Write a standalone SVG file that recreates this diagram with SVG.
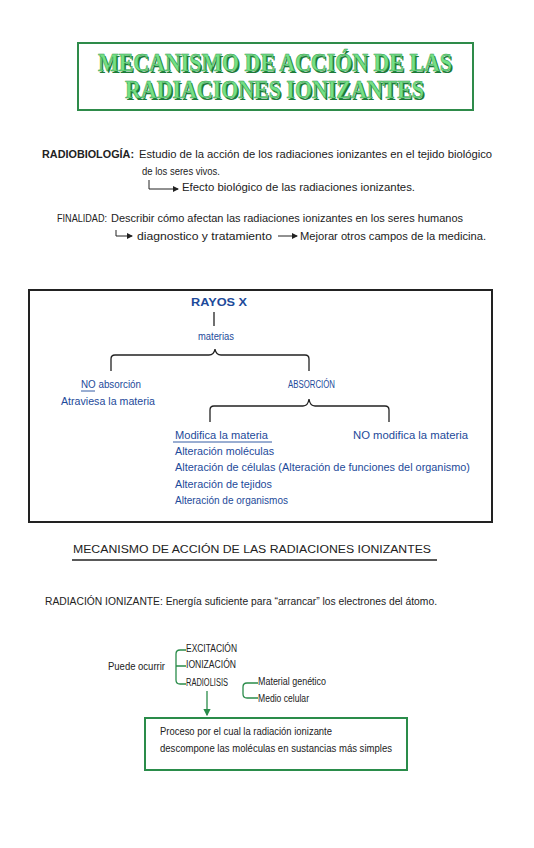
<svg xmlns="http://www.w3.org/2000/svg" width="534" height="848" viewBox="0 0 534 848">
<style>
.t{font-family:"Liberation Sans","DejaVu Sans",sans-serif;font-size:10px;fill:#222}
.b{font-family:"Liberation Sans","DejaVu Sans",sans-serif;font-size:10px;fill:#1d4a9a}
.ttl{font-family:"Liberation Serif","DejaVu Serif",serif;font-weight:bold;font-size:25px}
.sh{fill:#1c7a38}
.fg{fill:#74e085;stroke:#2f9a4c;stroke-width:0.5}
.ln{fill:none;stroke:#222;stroke-width:1}
.bl{fill:none;stroke:#222;stroke-width:1.3}
.gr{fill:none;stroke:#2a8c4a;stroke-width:1.3}
</style>
<defs>
<marker id="ah" viewBox="0 0 6 6" refX="5" refY="3" markerWidth="6" markerHeight="6" orient="auto"><path d="M0,0 L6,3 L0,6 z" fill="#222"/></marker>
<marker id="ahg" viewBox="0 0 6 6" refX="5" refY="3" markerWidth="6" markerHeight="6" orient="auto"><path d="M0,0 L6,3 L0,6 z" fill="#2a8c4a"/></marker>
</defs>
<rect width="534" height="848" fill="#fff"/>

<g id="title">
<rect x="78" y="43" width="395" height="67" fill="none" stroke="#2e8b4a" stroke-width="2"/>
<text class="ttl sh" x="99.5" y="72.5" textLength="354" lengthAdjust="spacingAndGlyphs">MECANISMO DE ACCIÓN DE LAS</text>
<text class="ttl fg" x="98" y="71" textLength="354" lengthAdjust="spacingAndGlyphs">MECANISMO DE ACCIÓN DE LAS</text>
<text class="ttl sh" x="126.5" y="99.5" textLength="299" lengthAdjust="spacingAndGlyphs">RADIACIONES IONIZANTES</text>
<text class="ttl fg" x="125" y="98" textLength="299" lengthAdjust="spacingAndGlyphs">RADIACIONES IONIZANTES</text>
</g>

<g id="radiobiologia">
<text class="t" x="42" y="158" font-weight="bold" textLength="92" lengthAdjust="spacingAndGlyphs">RADIOBIOLOGÍA:</text>
<text class="t" x="139" y="158" textLength="353" lengthAdjust="spacingAndGlyphs">Estudio de la acción de los radiaciones ionizantes en el tejido biológico</text>
<text class="t" x="142" y="175" textLength="78" lengthAdjust="spacingAndGlyphs">de los seres vivos.</text>
<text class="t" x="182" y="191" textLength="233" lengthAdjust="spacingAndGlyphs">Efecto biológico de las radiaciones ionizantes.</text>
</g>

<g id="finalidad">
<text class="t" x="57" y="222" textLength="50" lengthAdjust="spacingAndGlyphs">FINALIDAD:</text>
<text class="t" x="111" y="222" textLength="352" lengthAdjust="spacingAndGlyphs">Describir cómo afectan las radiaciones ionizantes en los seres humanos</text>
<text class="t" x="137" y="240" textLength="135" lengthAdjust="spacingAndGlyphs">diagnostico y tratamiento</text>
<text class="t" x="300" y="240" textLength="186" lengthAdjust="spacingAndGlyphs">Mejorar otros campos de la medicina.</text>
</g>

<g id="box-rayos">
<rect x="29" y="290" width="463" height="232" fill="none" stroke="#222" stroke-width="2"/>
</g>
<g id="rayos">
<text class="b" x="191" y="306" font-weight="bold" textLength="56" lengthAdjust="spacingAndGlyphs">RAYOS X</text>
</g>
<g id="materias"><text class="b" x="198" y="340" textLength="36" lengthAdjust="spacingAndGlyphs">materias</text></g>
<g id="no-absorcion">
<text class="b" x="81" y="388" textLength="60" lengthAdjust="spacingAndGlyphs">NO absorción</text>
<line x1="81" y1="391" x2="95" y2="391" stroke="#1d4a9a" stroke-width="0.9"/>
<text class="b" x="61" y="405" textLength="94" lengthAdjust="spacingAndGlyphs">Atraviesa la materia</text>
</g>
<g id="absorcion"><text class="b" x="288" y="388" textLength="47" lengthAdjust="spacingAndGlyphs">ABSORCIÓN</text></g>
<g id="modifica">
<text class="b" x="175" y="439" textLength="93" lengthAdjust="spacingAndGlyphs">Modifica la materia</text>
<line x1="173" y1="442" x2="272" y2="442" stroke="#1d4a9a" stroke-width="0.9"/>
<text class="b" x="175" y="455" textLength="99" lengthAdjust="spacingAndGlyphs">Alteración moléculas</text>
<text class="b" x="175" y="471" textLength="295" lengthAdjust="spacingAndGlyphs">Alteración de células (Alteración de funciones del organismo)</text>
<text class="b" x="175" y="488" textLength="97" lengthAdjust="spacingAndGlyphs">Alteración de tejidos</text>
<text class="b" x="175" y="504" textLength="113" lengthAdjust="spacingAndGlyphs">Alteración de organismos</text>
</g>
<g id="no-modifica"><text class="b" x="353" y="439" textLength="115" lengthAdjust="spacingAndGlyphs">NO modifica la materia</text></g>

<g id="seccion2">
<text class="t" x="73" y="553" font-size="9" textLength="358" lengthAdjust="spacingAndGlyphs">MECANISMO DE ACCIÓN DE LAS RADIACIONES IONIZANTES</text>
<line x1="72" y1="560" x2="437" y2="560" stroke="#222" stroke-width="1.3"/>
</g>
<g id="radiacion-ionizante">
<text class="t" x="45" y="605" textLength="392" lengthAdjust="spacingAndGlyphs">RADIACIÓN IONIZANTE: Energía suficiente para “arrancar” los electrones del átomo.</text>
</g>

<g id="puede"><text class="t" x="108" y="670" textLength="57" lengthAdjust="spacingAndGlyphs">Puede ocurrir</text></g>
<g id="excitacion"><text class="t" x="186" y="652" font-size="9" textLength="51" lengthAdjust="spacingAndGlyphs">EXCITACIÓN</text></g>
<g id="ionizacion"><text class="t" x="186" y="668" font-size="9" textLength="50" lengthAdjust="spacingAndGlyphs">IONIZACIÓN</text></g>
<g id="radiolisis"><text class="t" x="186" y="686" font-size="9" textLength="42" lengthAdjust="spacingAndGlyphs">RADIOLISIS</text></g>
<g id="material"><text class="t" x="258" y="685" textLength="68" lengthAdjust="spacingAndGlyphs">Material genético</text></g>
<g id="medio"><text class="t" x="258" y="702" textLength="51" lengthAdjust="spacingAndGlyphs">Medio celular</text></g>
<g id="proceso">
<rect x="145" y="718" width="262" height="52" fill="none" stroke="#2a8c4a" stroke-width="2"/>
<text class="t" x="160" y="735" textLength="172" lengthAdjust="spacingAndGlyphs">Proceso por el cual la radiación ionizante</text>
<text class="t" x="160" y="752" textLength="232" lengthAdjust="spacingAndGlyphs">descompone las moléculas en sustancias más simples</text>
</g>

<g id="connectors">
<path class="ln" d="M149,180 V189 H178" marker-end="url(#ah)"/>
<path class="ln" d="M116,230 V236 H132" marker-end="url(#ah)"/>
<path class="ln" d="M278,236 H297" marker-end="url(#ah)"/>
<path class="bl" d="M214,312 V326"/>
<path class="bl" d="M111,371 V359 Q111,355 115,355 H209 Q214,355 215,349 Q216,355 221,355 H305 Q309,355 309,359 V371"/>
<path class="bl" d="M210,422 V410 Q210,406 214,406 H303 Q308,406 309,399 Q310,406 315,406 H385 Q389,406 389,410 V422"/>
<path class="gr" d="M186,650 H180 Q176,650 176,654 V680 Q176,684 180,684 H186 M176,666 H186"/>
<path class="gr" d="M258,683 H247 Q243,683 243,687 V694 Q243,698 247,698 H258"/>
<path class="gr" d="M207,691 V715" marker-end="url(#ahg)"/>
</g>
</svg>
